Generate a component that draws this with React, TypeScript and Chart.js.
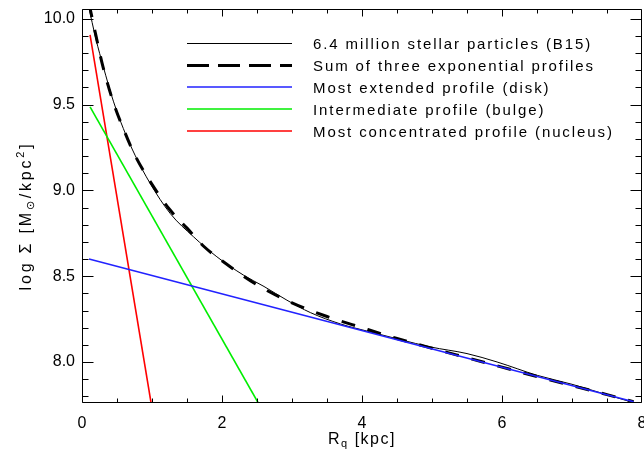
import React, { useEffect, useRef } from "react";
import { Chart, registerables } from "chart.js";

Chart.register(...registerables);

// ---- data ----
const simR = [0.09, 0.2, 0.305, 0.448, 0.591, 0.758, 0.973, 1.259, 1.592, 1.927, 2.308, 2.6, 2.928, 3.262, 3.69, 4.12, 4.55, 4.979, 5.5, 5.93, 6.505, 7.0, 7.458, 7.864];
const simLogSigma = [10.08, 9.88, 9.72, 9.52, 9.36, 9.205, 9.041, 8.866, 8.73, 8.613, 8.506, 8.44, 8.36, 8.288, 8.222, 8.175, 8.13, 8.0875, 8.049, 8.0, 7.922, 7.87, 7.814, 7.765];

const sumR = [0.1, 0.2, 0.3, 0.45, 0.6, 0.75, 1.0, 1.25, 1.5, 1.75, 2.0, 2.5, 3.0, 3.5, 4.0, 4.5, 5.0, 5.5, 6.0, 6.5, 7.0, 7.5, 7.88];
const sumLogSigma = [10.09, 9.9, 9.72, 9.51, 9.35, 9.21, 9.035, 8.89, 8.78, 8.67, 8.59, 8.45, 8.345, 8.265, 8.2, 8.137, 8.08, 8.025, 7.97, 7.915, 7.862, 7.81, 7.768];

const diskR = [0.1, 7.88];
const diskLogSigma = [8.6, 7.768];
const bulgeR = [0.115, 2.518];
const bulgeLogSigma = [9.487, 7.761];
const nucleusR = [0.115, 0.987];
const nucleusLogSigma = [9.906, 7.761];

const xTickValues = [0, 2, 4, 6, 8];
const yTickValues = [8.0, 8.5, 9.0, 9.5, 10.0];
const xMinorStep = 0.5;
const yMinorStep = 0.1;
const xMin = 0;
const xMax = 8;
const yMin = 7.761;
const yMax = 10.057;

const legendLabels = [
  "6.4 million stellar particles (B15)",
  "Sum of three exponential profiles",
  "Most extended profile (disk)",
  "Intermediate profile (bulge)",
  "Most concentrated profile (nucleus)",
];
const legendColors = ["#000000", "#000000", "#2222ff", "#00ee00", "#ff0000"];
const legendWidths = [1, 3, 1.6, 1.6, 1.6];
const legendDashes: number[][] = [[], [22, 9], [], [], []];

const FONT = "'Liberation Sans', Arial, sans-serif";

function pts(xs: number[], ys: number[]) {
  return xs.map((x, i) => ({ x, y: ys[i] }));
}

type Run = { t: string; size: number; dy: number };

function drawRuns(ctx: CanvasRenderingContext2D, runs: Run[], x0: number, y0: number, spacing: number, center: boolean) {
  ctx.save();
  (ctx as any).letterSpacing = spacing + "px";
  ctx.textBaseline = "alphabetic";
  ctx.textAlign = "left";
  let total = 0;
  const widths = runs.map((r) => {
    ctx.font = `${r.size}px ${FONT}`;
    const w = ctx.measureText(r.t).width;
    total += w;
    return w;
  });
  let x = center ? x0 - total / 2 : x0;
  runs.forEach((r, i) => {
    ctx.font = `${r.size}px ${FONT}`;
    ctx.fillText(r.t, x, y0 + r.dy);
    x += widths[i];
  });
  ctx.restore();
}

const decorPlugin = {
  id: "decor",
  afterDraw(chart: any) {
    const { ctx, chartArea: a, scales } = chart;
    const xs = scales.x;
    const ys = scales.y;
    const L = a.left + 0.5;
    const R = a.right - 0.5;
    const T = a.top + 0.5;
    const B = a.bottom - 0.5;
    ctx.save();
    ctx.strokeStyle = "#000";
    ctx.lineWidth = 1;
    ctx.beginPath();
    ctx.moveTo(L, T);
    ctx.lineTo(R, T);
    ctx.lineTo(R, B);
    ctx.lineTo(L, B);
    ctx.closePath();
    ctx.stroke();

    // x ticks (bottom and top, inward)
    const nx = Math.round((xMax - xMin) / xMinorStep);
    ctx.beginPath();
    for (let i = 0; i <= nx; i++) {
      const v = xMin + i * xMinorStep;
      const major = xTickValues.some((t) => Math.abs(t - v) < 1e-6);
      const len = major ? 7 : 4;
      let px = Math.floor(xs.getPixelForValue(v)) + 0.5;
      px = Math.min(Math.max(px, L), R);
      ctx.moveTo(px, B);
      ctx.lineTo(px, B - len);
      ctx.moveTo(px, T);
      ctx.lineTo(px, T + len);
    }
    // y ticks (left and right, inward)
    const y0 = Math.ceil(yMin / yMinorStep - 1e-6);
    const y1 = Math.floor(yMax / yMinorStep + 1e-6);
    for (let k = y0; k <= y1; k++) {
      const v = k * yMinorStep;
      const major = yTickValues.some((t) => Math.abs(t - v) < 1e-6);
      const len = major ? 11 : 6;
      const py = Math.round(ys.getPixelForValue(v)) + 0.5;
      ctx.moveTo(L, py);
      ctx.lineTo(L + len, py);
      ctx.moveTo(R, py);
      ctx.lineTo(R - len, py);
    }
    ctx.stroke();

    // legend
    const lx0 = 187;
    const lx1 = 292;
    const tx = 313;
    legendLabels.forEach((lab, i) => {
      const ly = 43 + i * 22;
      ctx.save();
      ctx.strokeStyle = legendColors[i];
      ctx.lineWidth = legendWidths[i];
      ctx.setLineDash(legendDashes[i]);
      ctx.beginPath();
      ctx.moveTo(lx0, ly + (legendWidths[i] % 2 === 1 ? 0.5 : 0));
      ctx.lineTo(lx1, ly + (legendWidths[i] % 2 === 1 ? 0.5 : 0));
      ctx.stroke();
      ctx.restore();
      ctx.fillStyle = "#000";
      drawRuns(ctx, [{ t: lab, size: 15, dy: 0 }], tx, ly + 6, 1.9, false);
    });

    // x title
    ctx.fillStyle = "#000";
    drawRuns(
      ctx,
      [
        { t: "R", size: 16, dy: 0 },
        { t: "q", size: 11, dy: 3 },
        { t: " [kpc]", size: 16, dy: 0 },
      ],
      (a.left + a.right) / 2,
      444,
      1.5,
      true
    );

    // y title (rotated)
    ctx.save();
    ctx.translate(31, 216);
    ctx.rotate(-Math.PI / 2);
    drawRuns(
      ctx,
      [
        { t: "log \u03A3 [M", size: 16, dy: 0 },
        { t: "\u2299", size: 11, dy: 3 },
        { t: "/kpc", size: 16, dy: 0 },
        { t: "2", size: 11, dy: -7 },
        { t: "]", size: 16, dy: 0 },
      ],
      0,
      0,
      2.8,
      true
    );
    ctx.restore();
    ctx.restore();
  },
};

export default function App() {
  const ref = useRef<HTMLCanvasElement>(null);
  useEffect(() => {
    const canvas = ref.current!;
    const common = { pointRadius: 0, pointHoverRadius: 0, showLine: true, fill: false, clip: 0 };
    const chart = new Chart(canvas, {
      type: "scatter",
      data: {
        datasets: [
          { ...common, label: legendLabels[2], data: pts(diskR, diskLogSigma), borderColor: "#2222ff", borderWidth: 1.6, order: 0 },
          { ...common, label: legendLabels[1], data: pts(sumR, sumLogSigma), borderColor: "#000", borderWidth: 3, borderDash: [14, 13], cubicInterpolationMode: "monotone", order: 1 },
          { ...common, label: legendLabels[0], data: pts(simR, simLogSigma), borderColor: "#000", borderWidth: 1, cubicInterpolationMode: "monotone", order: 2 },
          { ...common, label: legendLabels[3], data: pts(bulgeR, bulgeLogSigma), borderColor: "#00ee00", borderWidth: 1.6, order: 3 },
          { ...common, label: legendLabels[4], data: pts(nucleusR, nucleusLogSigma), borderColor: "#ff0000", borderWidth: 1.6, order: 4 },
        ] as any,
      },
      options: {
        responsive: false,
        animation: false,
        devicePixelRatio: 1,
        layout: { padding: { left: 0, right: 2, top: 9, bottom: 0 } },
        plugins: { legend: { display: false }, tooltip: { enabled: false } },
        events: [],
        scales: {
          x: {
            type: "linear",
            position: "bottom",
            min: xMin,
            max: xMax,
            grid: { display: false, drawTicks: false },
            border: { display: false },
            ticks: {
              padding: 11,
              color: "#000",
              font: { family: FONT, size: 16 },
              maxRotation: 0,
              autoSkip: false,
              callback: (v: any) => String(v),
            },
            afterBuildTicks: (s: any) => {
              s.ticks = xTickValues.map((v) => ({ value: v }));
            },
            afterFit: (s: any) => {
              s.height = 51;
              s.paddingLeft = 0;
              s.paddingRight = 0;
            },
          },
          y: {
            type: "linear",
            position: "left",
            min: yMin,
            max: yMax,
            grid: { display: false, drawTicks: false },
            border: { display: false },
            ticks: {
              padding: 7,
              color: "#000",
              font: { family: FONT, size: 16 },
              autoSkip: false,
              callback: (v: any) => Number(v).toFixed(1),
            },
            afterBuildTicks: (s: any) => {
              s.ticks = yTickValues.map((v) => ({ value: v }));
            },
            afterFit: (s: any) => {
              s.width = 82;
              s.paddingTop = 0;
              s.paddingBottom = 0;
            },
          },
        },
      } as any,
      plugins: [decorPlugin],
    });
    return () => chart.destroy();
  }, []);
  return (
    <div style={{ position: "absolute", left: 0, top: 0, width: 644, height: 454, background: "#fff" }}>
      <canvas ref={ref} width={644} height={454} style={{ display: "block" }} />
    </div>
  );
}
